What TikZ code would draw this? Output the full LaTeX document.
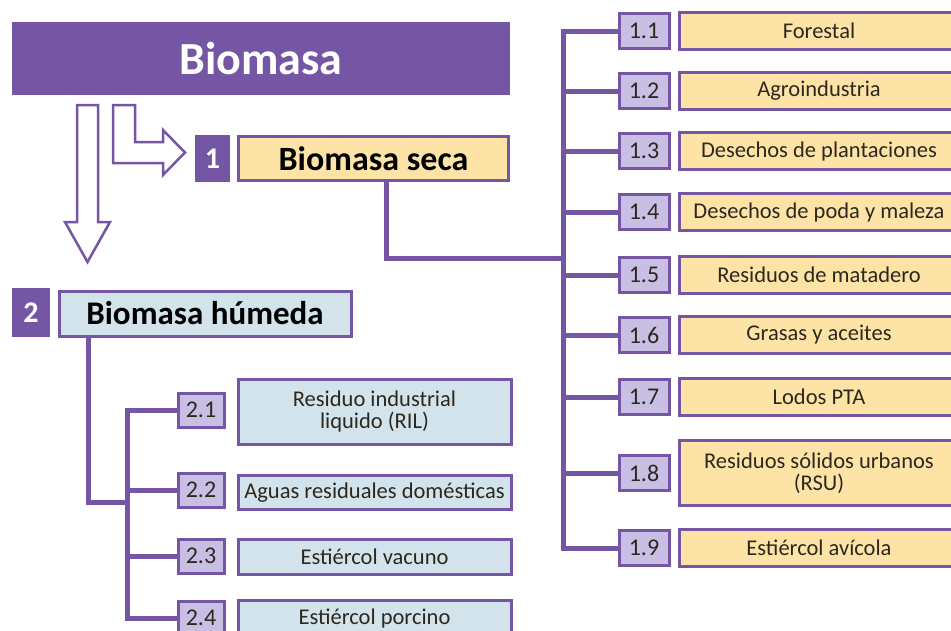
\documentclass[tikz,border=0pt]{standalone}
\usepackage{fontspec}
\setmainfont{Carlito}
\usetikzlibrary{positioning}

\definecolor{biopurple}{RGB}{116,86,164}
\definecolor{biolilac}{RGB}{201,191,229}
\definecolor{bioyellow}{RGB}{253,228,166}
\definecolor{bioblue}{RGB}{210,227,236}
\definecolor{biotext}{RGB}{45,40,30}

\def\busOneX{563}
\def\busTwoX{127}

\tikzset{
    link/.style = {draw=biopurple, line width=5pt},
    hollow/.style = {draw=biopurple, line width=2.5pt, fill=white, line join=miter},
    headbox/.style = {fill=biopurple, text=white, inner sep=0pt,
        font=\fontsize{46}{46}\selectfont\bfseries},
    darknum/.style = {fill=biopurple, text=white, inner sep=0pt,
        font=\fontsize{30}{30}\selectfont\bfseries},
    numbox/.style = {draw=biopurple, line width=3pt, fill=biolilac, inner sep=0pt,
        text=biotext, font=\fontsize{24}{24}\selectfont},
    secabox/.style = {draw=biopurple, line width=3pt, fill=bioyellow, inner sep=0pt,
        align=center, text=biotext, font=\fontsize{22.5}{22}\selectfont},
    humbox/.style = {draw=biopurple, line width=3pt, fill=bioblue, inner sep=0pt,
        align=center, text=biotext, font=\fontsize{22.5}{22}\selectfont}
}

\begin{document}
\begin{tikzpicture}[x=1pt, y=-1pt]
    \useasboundingbox (0,0) rectangle (951,630);

    %% main title
    \node [headbox, minimum width=498pt, minimum height=73pt] (biomasa) at (261,58.5) {Biomasa};

    %% hollow arrows
    \draw [hollow]
    (77,105) -- (98,105) -- (98,222) -- (110,222) -- (87.5,262) -- (65,222) -- (77,222) -- cycle
    ;
    \draw [hollow]
    (113,105) -- (135,105) -- (135,142) -- (163,142) -- (163,130) -- (185,152.5)
    -- (163,175) -- (163,163) -- (113,163) -- cycle
    ;

    %% group 1
    \node [darknum, minimum width=35pt, minimum height=47pt] (num1) at (212.5,158.5) {1};
    \node [secabox, minimum width=270pt, minimum height=44pt,
        font=\fontsize{34}{34}\selectfont\bfseries, text=black] (seca) at (373.5,158.5) {Biomasa seca};

    \foreach \n/\y/\h/\txt in {
        1/31/37/Forestal,
        2/91/37/Agroindustria,
        3/151/37/Desechos de plantaciones,
        4/212/37/Desechos de poda y maleza,
        5/275/37/Residuos de matadero,
        6/335/37/Grasas y aceites,
        7/397/37/Lodos PTA,
        8/473/65/{Residuos sólidos urbanos\\(RSU)},
        9/548/37/Estiércol avícola}
    {
        \node [numbox, minimum width=50pt, minimum height=35pt] (n1\n) at (644,\y) {1.\n};
        \node [secabox, minimum width=280pt, minimum height=\h pt] (t1\n) at (819,\y) {\txt};
    }

    \coordinate (busone) at (\busOneX,0);
    \coordinate (hubone) at (\busOneX,258);
    \draw [link] (n11.west) -- (n11.west -| busone) |- (n19.west);
    \foreach \n in {2,...,8}
        \draw [link] (busone |- n1\n.west) -- (n1\n.west);
    \draw [link] ([xshift=12.5pt]seca.south) |- (hubone);

    %% group 2
    \node [darknum, minimum width=38pt, minimum height=49pt] (num2) at (31,312.5) {2};
    \node [humbox, minimum width=292pt, minimum height=45pt,
        font=\fontsize{33}{33}\selectfont\bfseries, text=black] (humeda) at (205,313.5) {Biomasa húmeda};

    \foreach \n/\y/\ty/\h/\txt in {
        1/410/411.5/65/{Residuo industrial\\liquido (RIL)},
        2/490/492.5/34/Aguas residuales domésticas,
        3/556/557/35/Estiércol vacuno,
        4/618/618/35/Estiércol porcino}
    {
        \node [numbox, minimum width=46pt, minimum height=34pt] (n2\n) at (201,\y) {2.\n};
        \node [humbox, minimum width=273pt, minimum height=\h pt] (t2\n) at (374.5,\ty) {\txt};
    }

    \coordinate (bustwo) at (\busTwoX,0);
    \coordinate (hubtwo) at (\busTwoX,502);
    \draw [link] (n21.west) -- (n21.west -| bustwo) |- (n24.west);
    \foreach \n in {2,3}
        \draw [link] (bustwo |- n2\n.west) -- (n2\n.west);
    \draw [link] ([xshift=-117pt]humeda.south) |- (hubtwo);
\end{tikzpicture}
\end{document}
